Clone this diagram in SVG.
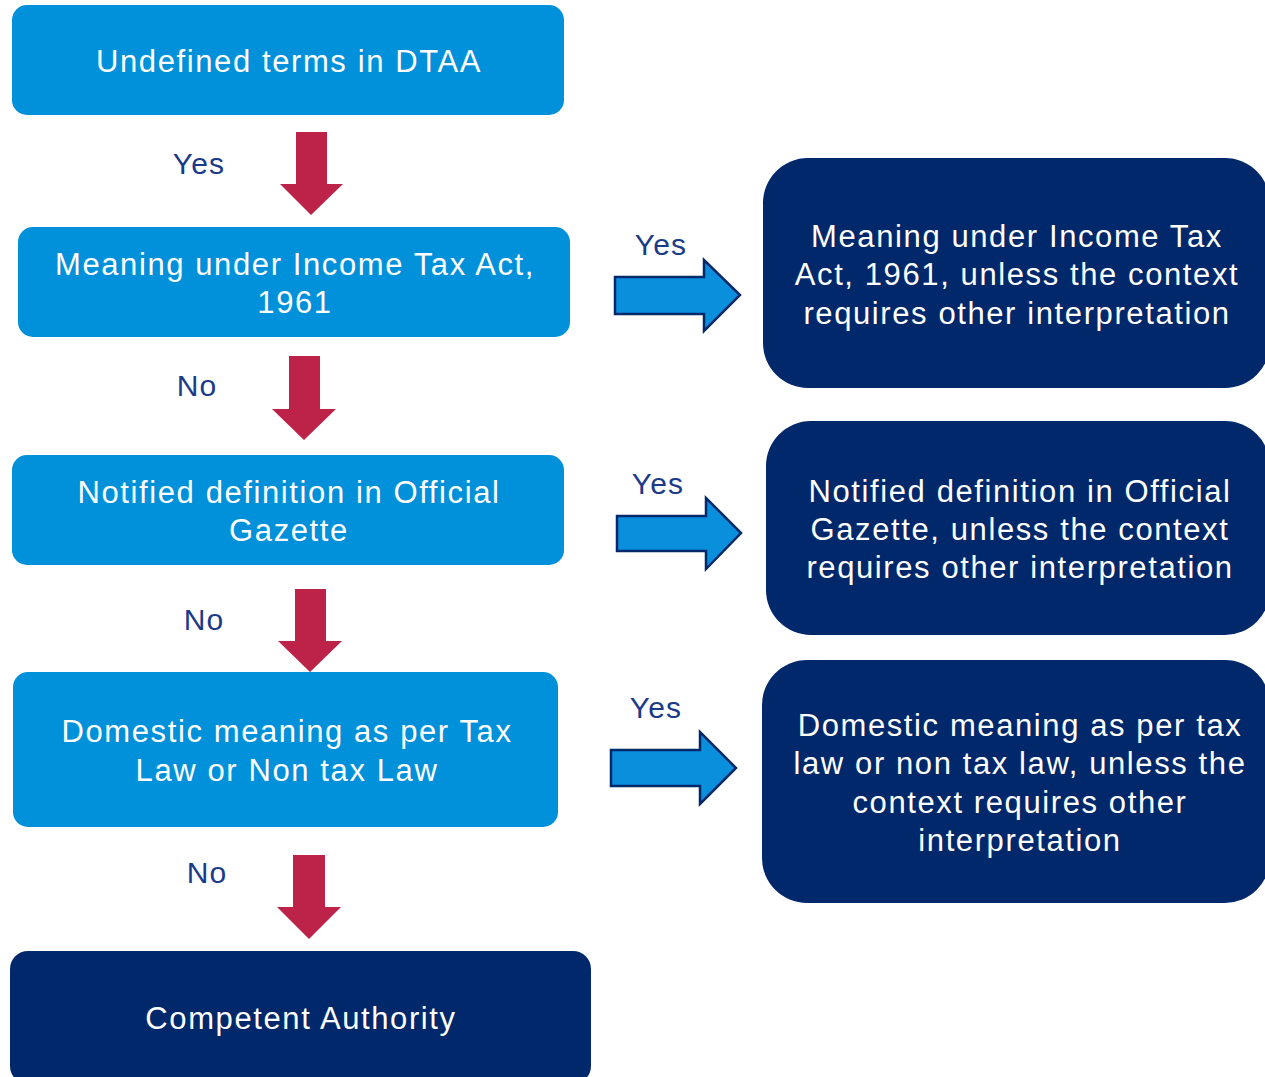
<svg xmlns="http://www.w3.org/2000/svg" width="1265" height="1077" viewBox="0 0 1265 1077">
<style>
.lb{fill:#0091da}
.db{fill:#00286a}
.t{font-family:"Liberation Sans",Arial,sans-serif;font-size:31px;letter-spacing:1.6px;fill:#ffffff;text-anchor:middle}
.lab{font-family:"Liberation Sans",Arial,sans-serif;font-size:30px;letter-spacing:1.2px;fill:#1b3a8a;text-anchor:middle}
.red{fill:#bd2249}
.ba{fill:#0a8fdc;stroke:#00286a;stroke-width:2.5}
</style>
<rect width="1265" height="1077" fill="#ffffff"/>
<g id="n1"><rect class="lb" x="12" y="5" width="552" height="110" rx="15"/><text class="t" x="289" y="72">Undefined terms in DTAA</text></g>
<g id="n2"><rect class="lb" x="18" y="227" width="552" height="110" rx="15"/><text class="t" x="295" y="275">Meaning under Income Tax Act,</text><text class="t" x="295" y="313">1961</text></g>
<g id="n3"><rect class="lb" x="12" y="455" width="552" height="110" rx="15"/><text class="t" x="289" y="503">Notified definition in Official</text><text class="t" x="289" y="541">Gazette</text></g>
<g id="n4"><rect class="lb" x="13" y="672" width="545" height="155" rx="15"/><text class="t" x="287" y="742">Domestic meaning as per Tax</text><text class="t" x="287" y="781">Law or Non tax Law</text></g>
<g id="n5"><rect class="db" x="10" y="951" width="581" height="133" rx="18"/><text class="t" x="301" y="1029">Competent Authority</text></g>
<g id="r1"><rect class="db" x="763" y="158" width="507" height="230" rx="45"/><text class="t" x="1017" y="247">Meaning under Income Tax</text><text class="t" x="1017" y="285">Act, 1961, unless the context</text><text class="t" x="1017" y="324">requires other interpretation</text></g>
<g id="r2"><rect class="db" x="766" y="421" width="504" height="214" rx="45"/><text class="t" x="1020" y="502">Notified definition in Official</text><text class="t" x="1020" y="540">Gazette, unless the context</text><text class="t" x="1020" y="578">requires other interpretation</text></g>
<g id="r3"><rect class="db" x="762" y="660" width="508" height="243" rx="45"/><text class="t" x="1020" y="736">Domestic meaning as per tax</text><text class="t" x="1020" y="774">law or non tax law, unless the</text><text class="t" x="1020" y="813">context requires other</text><text class="t" x="1020" y="851">interpretation</text></g>
<g id="connectors">
<polygon class="red" points="296,132 327,132 327,184 343,184 311,215 280,184 296,184"/>
<polygon class="red" points="289,356 320,356 320,409 336,409 304,440 272,409 289,409"/>
<polygon class="red" points="295,589 326,589 326,641 342,641 310,672 278,641 295,641"/>
<polygon class="red" points="293,855 325,855 325,907 341,907 309,939 277,907 293,907"/>
<polygon class="ba" points="615,277 704,277 704,260 740,295 704,331 704,314 615,314"/>
<polygon class="ba" points="617,516 706,516 706,498 741,533 706,569 706,551 617,551"/>
<polygon class="ba" points="611,750 700,750 700,732 736,768 700,804 700,786 611,786"/>
<text class="lab" x="199" y="174">Yes</text>
<text class="lab" x="197" y="396">No</text>
<text class="lab" x="204" y="630">No</text>
<text class="lab" x="207" y="883">No</text>
<text class="lab" x="661" y="255">Yes</text>
<text class="lab" x="658" y="494">Yes</text>
<text class="lab" x="656" y="718">Yes</text>
</g>
</svg>
